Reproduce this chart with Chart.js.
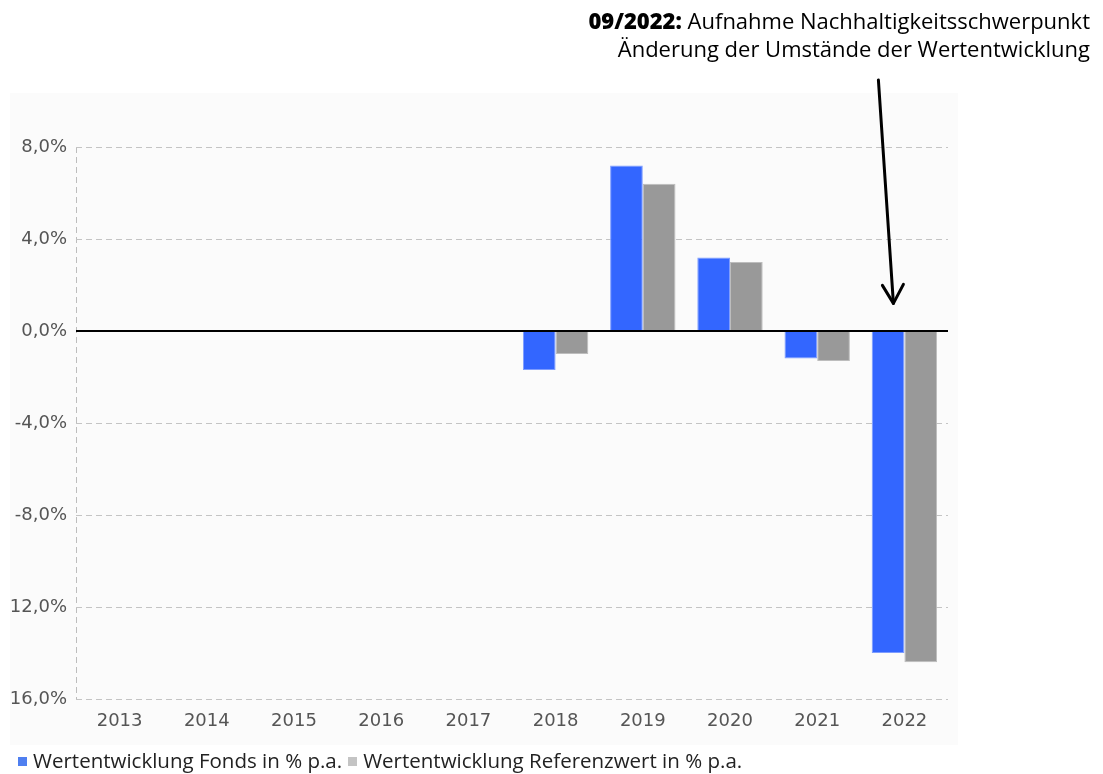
<!DOCTYPE html>
<html>
<head>
<meta charset="utf-8">
<script src="https://cdn.jsdelivr.net/npm/chart.js@4/dist/chart.umd.min.js"></script>
<style>
    html, body { margin: 0; padding: 0; background: #fff; }
    #wrap { position: relative; width: 1103px; height: 774px; overflow: hidden; }
    #note {
        position: absolute; right: 13px; top: 6px;
        text-align: right; font-family: "Open Sans", sans-serif;
        font-size: 22px; line-height: 28px; color: #000;
    }
    #note b { font-weight: 800; }
    #legend {
        position: absolute; left: 18px; top: 746px;
        font-family: "Open Sans", sans-serif; font-size: 20.5px; color: #222;
        white-space: nowrap;
    }
    #legend span.box {
        display: inline-block; width: 9px; height: 9px; margin-right: 6px;
        vertical-align: 2px;
    }
    #legend span.item { margin-right: 6px; }
</style>
</head>
<body>
<div id="wrap">
    <canvas id="myChart" width="1103" height="774"></canvas>
    <div id="note"><b>09/2022:</b> Aufnahme Nachhaltigkeitsschwerpunkt<br>Änderung der Umstände der Wertentwicklung</div>
    <div id="legend"></div>
</div>
<script>
const years = ["2013", "2014", "2015", "2016", "2017", "2018", "2019", "2020", "2021", "2022"];
const fondsValues = [null, null, null, null, null, -1.7, 7.2, 3.2, -1.2, -14.0];
const referenzValues = [null, null, null, null, null, -1.0, 6.4, 3.0, -1.3, -14.4];
const yTickValues = [-16, -12, -8, -4, 0, 4, 8];
const yTickLabels = ["16,0%", "12,0%", "-8,0%", "-4,0%", "0,0%", "4,0%", "8,0%"];
const seriesNames = ["Wertentwicklung Fonds in % p.a.", "Wertentwicklung Referenzwert in % p.a."];
const legendColors = ["#4f7ff0", "#c4c4c4"];

const extras = {
    id: "extras",
    beforeDraw(chart) {
        const { ctx, chartArea: a } = chart;
        ctx.save();
        ctx.fillStyle = "#fbfbfb";
        ctx.fillRect(a.left - 66, a.top - 54, a.right - a.left + 76, a.bottom - a.top + 100);
        ctx.restore();
    },
    afterDatasetsDraw(chart) {
        const { ctx, chartArea: a, scales } = chart;
        const y0 = Math.round(scales.y.getPixelForValue(0));
        ctx.save();
        ctx.strokeStyle = "#000";
        ctx.lineWidth = 2;
        ctx.beginPath();
        ctx.moveTo(a.left, y0);
        ctx.lineTo(a.right, y0);
        ctx.stroke();

        // arrow pointing at the 2022 bars
        const tipX = scales.x.getPixelForValue(9) - 11;
        const tipY = scales.y.getPixelForValue(1.2);
        ctx.lineWidth = 3;
        ctx.lineCap = "round";
        ctx.lineJoin = "round";
        ctx.beginPath();
        ctx.moveTo(tipX - 15, 80);
        ctx.lineTo(tipX, tipY);
        ctx.stroke();
        ctx.beginPath();
        ctx.moveTo(tipX - 11, tipY - 18);
        ctx.lineTo(tipX, tipY);
        ctx.lineTo(tipX + 10, tipY - 19);
        ctx.stroke();
        ctx.restore();
    }
};

const chart = new Chart("myChart", {
    type: "bar",
    data: {
        labels: years,
        datasets: [{
            label: seriesNames[0],
            data: fondsValues,
            backgroundColor: "#3366ff",
            borderColor: "#7d9cff",
            borderWidth: 1,
            categoryPercentage: 0.75,
            barPercentage: 1.0
        }, {
            label: seriesNames[1],
            data: referenzValues,
            backgroundColor: "#999999",
            borderColor: "#bdbdbd",
            borderWidth: 1,
            categoryPercentage: 0.75,
            barPercentage: 1.0
        }]
    },
    options: {
        responsive: false,
        animation: false,
        layout: { padding: { left: 0, right: 155, top: 147, bottom: 0 } },
        plugins: {
            tooltip: { enabled: false },
            legend: { display: false }
        },
        scales: {
            x: {
                afterFit(scale) { scale.height = 75; },
                grid: {
                    offset: true,
                    drawTicks: false,
                    color: (c) => c.index === 0 ? "#bdbdbd" : "rgba(0,0,0,0)"
                },
                border: { display: false, dash: [6, 4] },
                ticks: {
                    padding: 12,
                    color: "#555",
                    font: { family: "DejaVu Sans", size: 18 }
                }
            },
            y: {
                min: -16,
                max: 8,
                afterFit(scale) { scale.width = 76; },
                afterBuildTicks(scale) {
                    scale.ticks = yTickValues.map(v => ({ value: v }));
                },
                grid: {
                    drawTicks: false,
                    color: "#c4c4c4",
                    lineWidth: 1
                },
                border: { display: false, dash: [6, 4] },
                ticks: {
                    padding: 9,
                    color: "#555",
                    font: { family: "DejaVu Sans", size: 18 },
                    callback: (v, i) => yTickLabels[i]
                }
            }
        }
    },
    plugins: [extras]
});

// legend below the chart, built from the dataset labels
const legendEl = document.getElementById("legend");
chart.data.datasets.forEach((ds, i) => {
    const item = document.createElement("span");
    item.className = "item";
    const box = document.createElement("span");
    box.className = "box";
    box.style.background = legendColors[i];
    item.appendChild(box);
    item.appendChild(document.createTextNode(ds.label));
    legendEl.appendChild(item);
});
</script>
</body>
</html>
